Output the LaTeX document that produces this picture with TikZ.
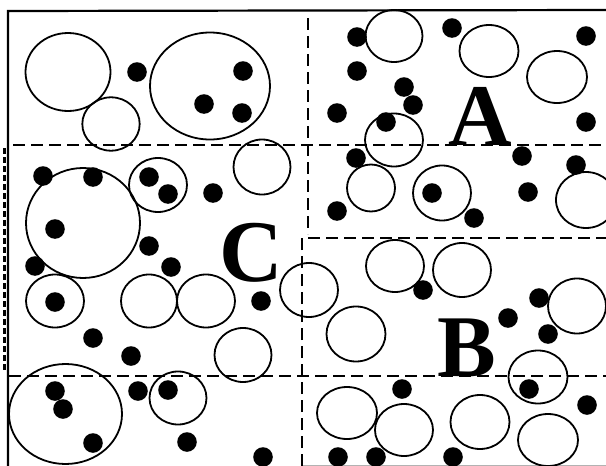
\documentclass[tikz,border=0pt]{standalone}
\usepackage{fontspec}
\setmainfont{Liberation Serif}
\usetikzlibrary{positioning}
\tikzset{
  ring/.style={draw,line width=1.8pt},
  blob/.style={fill=black},
  frame/.style={draw,line width=2.2pt},
  zone/.style={draw,line width=2pt,dash pattern=on 12pt off 6pt},
  zoneleft/.style={draw,line width=2.6pt,dash pattern=on 6pt off 3pt},
  region/.style={font=\fontsize{88}{88}\selectfont\bfseries,inner sep=0pt,anchor=base},
}
\begin{document}
\begin{tikzpicture}[x=1pt,y=-1pt]
  \useasboundingbox (0,0) rectangle (606,466);
  % frame
  \coordinate (TL) at (8,11);
  \coordinate (TR) at (606,10);
  \coordinate (BL) at (8,466);
  \draw[frame] (TR) -- (TL) -- (BL);
  \draw[gray!60,line width=0.8pt] (303,465) -- (606,465);
  % zone borders
  \draw[zone] (13,145) -- (606,145);
  \draw[zone] (9,376) -- (606,376);
  \draw[zone] (308,18) -- (308,234);
  \draw[zone] (302,466) -- (302,238) -- (606,238);
  \draw[zoneleft] (4.5,148) -- (4.5,372);
  % open circles
  \foreach \x/\y/\a/\b in {68/72/42.5/39, 111/124/28.7/26.7, 210/86/60/53.5,
      83/223/57/55, 158/185/29/27, 262/167/28.5/27.5,
      394/36/28.5/26, 394/140/29/26.5, 371/188/24/23.5, 489/51/29.5/26,
      557/77/30/26, 442/193/29/27.5, 586/200/30/28,
      55/301/29/26.5, 149/301/28/26.5, 206/301/29/26.5, 65.5/414/56.5/50,
      178/398/28.5/26.5, 309/290/29/27, 243/355/28.5/27, 356/334/29.5/27.5,
      395/266/29/26, 347/413/30/26, 404/430/29/26, 462/270/29/27,
      577/306/29/27.5, 538/377/29.5/26.5, 480/422/29.5/27, 548/440/30/26}
    \draw[ring] (\x,\y) ellipse [x radius=\a pt,y radius=\b pt];
  % filled dots
  \foreach \x/\y in {137/72, 204/104, 243/71, 242/113,
      43/176, 93/177, 55/229, 149/177, 168/194, 213/193,
      357/37, 357/71, 404/87, 413/105, 337/113, 386/122, 356/158, 337/211,
      452/28, 586/36, 586/122, 522/156, 576/165, 432/193, 474/218, 528/192,
      149/246, 35/266, 171/267, 55/302, 93/338, 131/356,
      55/391, 63/409, 93/443, 138/391, 168/390, 187/442,
      261/301, 402/389, 263/457, 338/457, 376/457,
      423/290, 539/298, 508/318, 548/334, 529/389, 587/405, 453/457}
    \fill[blob] (\x,\y) circle [radius=9.8pt];
  % region letters
  \node[region] (labA) at (480,145) {A};
  \node[region] (labC) at (251,281) {C};
  \node[region] (labB) at (467,376) {B};
\end{tikzpicture}
\end{document}
